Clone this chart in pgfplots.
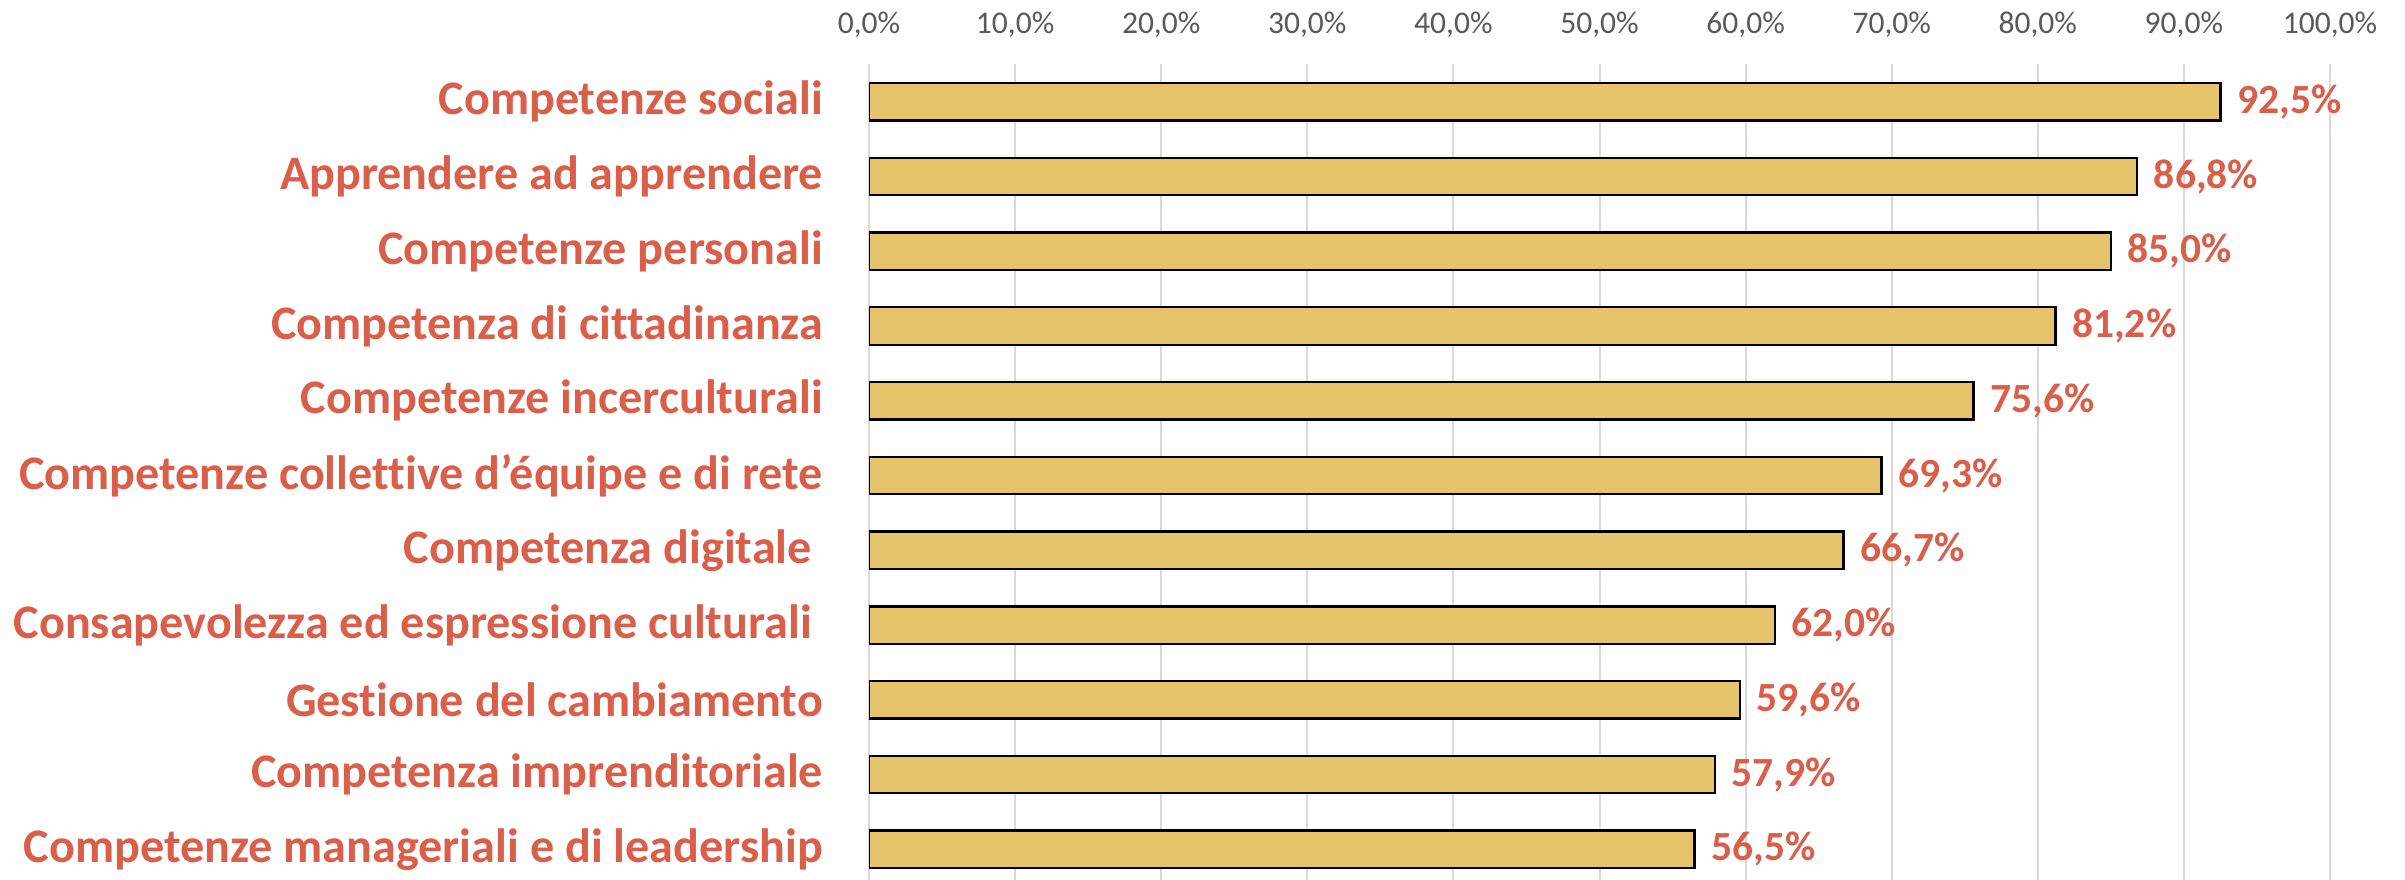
\documentclass[border=0pt]{standalone}
\usepackage{fontspec}
\setmainfont[Ligatures=NoCommon]{Carlito}
\usepackage{pgfplots}
\pgfplotsset{compat=1.18}
\definecolor{barfill}{HTML}{E6C46B}
\definecolor{labred}{HTML}{DA5F4B}
\definecolor{tickgray}{HTML}{595959}
\definecolor{gridgray}{HTML}{D9D9D9}
\pgfkeys{/pgf/number format/assume math mode=true}
\begin{document}
\begin{tikzpicture}
\useasboundingbox (0,0) rectangle (721.5bp,264bp);
\begin{axis}[
  at={(260.7bp,0bp)}, anchor=south west,
  scale only axis, width=438.3bp, height=244.7bp,
  xbar, bar width=0.5, y dir=reverse,
  xmin=0, xmax=100, ymin=-0.5, ymax=10.41,
  xtick={0,10,...,100},
  xticklabels={{0,0\%},{10,0\%},{20,0\%},{30,0\%},{40,0\%},{50,0\%},{60,0\%},{70,0\%},{80,0\%},{90,0\%},{100,0\%}},
  xticklabel pos=upper,
  xmajorgrids, grid style={gridgray, line width=0.6bp},
  axis line style={draw=none},
  major tick length=0pt,
  ytick={0,...,10},
  yticklabels={{Competenze sociali},{Apprendere ad apprendere},{Competenze personali},{Competenza di cittadinanza},{Competenze incerculturali},{Competenze collettive d’équipe e di rete},{Competenza digitale\kern0.23em},{Consapevolezza ed espressione culturali\kern0.23em},{Gestione del cambiamento},{Competenza imprenditoriale},{Competenze manageriali e di leadership}},
  yticklabel style={font=\bfseries\fontsize{14.5}{16}\selectfont, text=labred, anchor=east, inner sep=0pt, xshift=-13.6bp},
  xticklabel style={font=\fontsize{9.5}{11}\selectfont, text=tickgray, anchor=base, inner sep=0pt, yshift=9.3bp},
  point meta=x,
  nodes near coords={\pgfmathprintnumber[fixed, fixed zerofill, precision=1, use comma]{\pgfplotspointmeta}\%},
  nodes near coords style={anchor=west, font=\bfseries\fontsize{12.5}{14}\selectfont, text=labred, inner sep=0pt, xshift=4.7bp},
]
\addplot[fill=barfill, draw=black, line width=0.7bp] coordinates {
  (92.5,0) (86.8,1) (85.0,2) (81.2,3) (75.6,4) (69.3,5) (66.7,6) (62.0,7) (59.6,8) (57.9,9) (56.5,10)
};
\end{axis}
\end{tikzpicture}
\end{document}
